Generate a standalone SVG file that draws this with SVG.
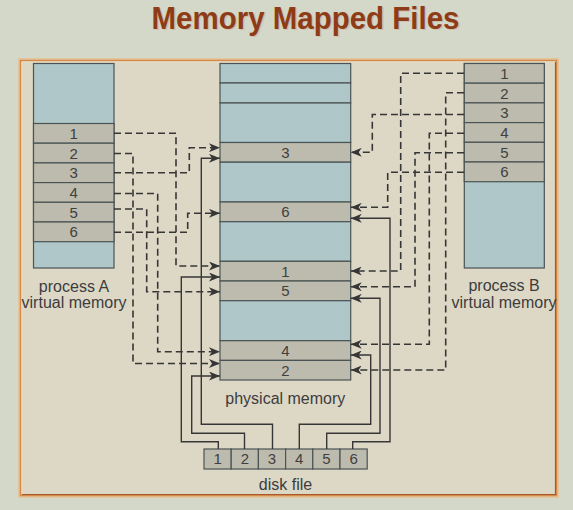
<svg xmlns="http://www.w3.org/2000/svg" width="573" height="510" viewBox="0 0 573 510">
<defs>
<style>
.blue{fill:#afc7c8;stroke:#4a5454;stroke-width:1.2}
.gray{fill:#bdbbad;stroke:#4a5454;stroke-width:1.2}
.num{font-family:"Liberation Sans",Arial,sans-serif;font-size:15px;fill:#404040;text-anchor:middle}
.lbl{font-family:"Liberation Sans",Arial,sans-serif;font-size:16px;fill:#3c3c3c;text-anchor:middle}
.dash{fill:none;stroke:#363636;stroke-width:1.6;stroke-dasharray:7 4;marker-end:url(#ah)}
.solid{fill:none;stroke:#363636;stroke-width:1.4;marker-end:url(#ah)}
</style>
<marker id="ah" markerUnits="userSpaceOnUse" markerWidth="11" markerHeight="9" refX="11" refY="4.5" orient="auto">
<path d="M0,0 L11,4.5 L0,9 L3,4.5 z" fill="#363636" stroke="none"/>
</marker>
</defs>
<rect x="0" y="0" width="573" height="510" fill="#d3d8c9"/>
<text x="305.5" y="28.5" font-family="'Liberation Sans',Arial,sans-serif" font-weight="bold" font-size="32" fill="#c9a48a" text-anchor="middle" opacity="0.45" textLength="308" lengthAdjust="spacingAndGlyphs" transform="translate(1.5,1.5)">Memory Mapped Files</text>
<text x="305.5" y="28.5" font-family="'Liberation Sans',Arial,sans-serif" font-weight="bold" font-size="32" fill="#8e3b17" text-anchor="middle" textLength="308" lengthAdjust="spacingAndGlyphs">Memory Mapped Files</text>
<g id="frame">
<rect x="19" y="59" width="539" height="438" fill="#ddd8c6" stroke="#e3c49c" stroke-width="2"/>
<rect x="20.5" y="60.5" width="536" height="435" fill="none" stroke="#d38a4b" stroke-width="1.5"/>
<polyline points="22,494.5 555.5,494.5 555.5,62" fill="none" stroke="#a65a2c" stroke-width="1.2"/>
<polyline points="22,494 22,62 555,62" fill="none" stroke="#efd9bb" stroke-width="1"/>
</g>

<g id="processA">
<rect class="blue" x="33.5" y="63.5" width="80.5" height="204.5"/>
<rect class="gray" x="33.5" y="123.5" width="80.5" height="19.7"/>
<rect class="gray" x="33.5" y="143.2" width="80.5" height="19.7"/>
<rect class="gray" x="33.5" y="162.9" width="80.5" height="19.7"/>
<rect class="gray" x="33.5" y="182.6" width="80.5" height="19.7"/>
<rect class="gray" x="33.5" y="202.3" width="80.5" height="19.7"/>
<rect class="gray" x="33.5" y="222" width="80.5" height="19.7"/>
<text class="num" x="73.7" y="138.8">1</text>
<text class="num" x="73.7" y="158.5">2</text>
<text class="num" x="73.7" y="178.2">3</text>
<text class="num" x="73.7" y="197.9">4</text>
<text class="num" x="73.7" y="217.6">5</text>
<text class="num" x="73.7" y="237.3">6</text>
<text class="lbl" x="74" y="291.5">process A</text>
<text class="lbl" x="74" y="308">virtual memory</text>
</g>

<g id="processB">
<rect class="blue" x="464.3" y="63.5" width="80" height="204.5"/>
<rect class="gray" x="464.3" y="63.5" width="80" height="19.7"/>
<rect class="gray" x="464.3" y="83.2" width="80" height="19.7"/>
<rect class="gray" x="464.3" y="102.9" width="80" height="19.7"/>
<rect class="gray" x="464.3" y="122.6" width="80" height="19.7"/>
<rect class="gray" x="464.3" y="142.3" width="80" height="19.7"/>
<rect class="gray" x="464.3" y="162" width="80" height="19.7"/>
<text class="num" x="504.3" y="78.8">1</text>
<text class="num" x="504.3" y="98.5">2</text>
<text class="num" x="504.3" y="118.2">3</text>
<text class="num" x="504.3" y="137.9">4</text>
<text class="num" x="504.3" y="157.6">5</text>
<text class="num" x="504.3" y="177.3">6</text>
<text class="lbl" x="504" y="291">process B</text>
<text class="lbl" x="504" y="307.5">virtual memory</text>
</g>

<g id="physical">
<rect class="blue" x="220" y="63.5" width="130.7" height="19.5"/>
<rect class="blue" x="220" y="83" width="130.7" height="20"/>
<rect class="blue" x="220" y="103" width="130.7" height="39.5"/>
<rect class="gray" x="220" y="142.5" width="130.7" height="19.7"/>
<rect class="blue" x="220" y="162.2" width="130.7" height="39.8"/>
<rect class="gray" x="220" y="202" width="130.7" height="19.7"/>
<rect class="blue" x="220" y="221.7" width="130.7" height="39.6"/>
<rect class="gray" x="220" y="261.3" width="130.7" height="19.7"/>
<rect class="gray" x="220" y="281" width="130.7" height="19.7"/>
<rect class="blue" x="220" y="300.7" width="130.7" height="40"/>
<rect class="gray" x="220" y="340.7" width="130.7" height="19.7"/>
<rect class="gray" x="220" y="360.4" width="130.7" height="19.6"/>
<text class="num" x="285.3" y="157.8">3</text>
<text class="num" x="285.3" y="217.3">6</text>
<text class="num" x="285.3" y="276.6">1</text>
<text class="num" x="285.3" y="296.3">5</text>
<text class="num" x="285.3" y="356">4</text>
<text class="num" x="285.3" y="375.6">2</text>
<text class="lbl" x="285.3" y="403.5">physical memory</text>
</g>

<g id="diskfile">
<rect class="gray" x="204" y="449" width="27.2" height="20"/>
<rect class="gray" x="231.2" y="449" width="27.2" height="20"/>
<rect class="gray" x="258.4" y="449" width="27.2" height="20"/>
<rect class="gray" x="285.6" y="449" width="27.2" height="20"/>
<rect class="gray" x="312.8" y="449" width="27.2" height="20"/>
<rect class="gray" x="340" y="449" width="27.2" height="20"/>
<text class="num" x="217.6" y="464.4">1</text>
<text class="num" x="244.8" y="464.4">2</text>
<text class="num" x="272" y="464.4">3</text>
<text class="num" x="299.2" y="464.4">4</text>
<text class="num" x="326.4" y="464.4">5</text>
<text class="num" x="353.6" y="464.4">6</text>
<text class="lbl" x="285.5" y="490">disk file</text>
</g>

<g id="connectors">
<path class="dash" d="M114,133.3 H176 V266 H220"/>
<path class="dash" d="M114,153.5 H133 V363.5 H220"/>
<path class="dash" d="M114,172.7 H189.3 V147.7 H220"/>
<path class="dash" d="M114,193.5 H157.7 V351.7 H220"/>
<path class="dash" d="M114,209 H146.7 V291.7 H220"/>
<path class="dash" d="M114,232.3 H187.7 V213.3 H220"/>
<path class="dash" d="M464,73.3 H400.7 V271 H350.7"/>
<path class="dash" d="M464,92.7 H445.7 V370 H350.7"/>
<path class="dash" d="M464,114.5 H372.3 V152.3 H350.7"/>
<path class="dash" d="M464,133.3 H429.3 V344.3 H350.7"/>
<path class="dash" d="M464,152.7 H415 V286.7 H350.7"/>
<path class="dash" d="M464,172.3 H387.7 V207.3 H350.7"/>
<path class="solid" d="M218.3,449 V441.7 H181.3 V277 H220"/>
<path class="solid" d="M244.5,449 V433.3 H191.7 V376 H220"/>
<path class="solid" d="M272.5,449 V424.3 H201.3 V158.3 H220"/>
<path class="solid" d="M299.3,449 V424.3 H370.7 V355 H350.7"/>
<path class="solid" d="M326.7,449 V433.3 H380 V298.3 H350.7"/>
<path class="solid" d="M352.7,449 V441.7 H390 V218.3 H350.7"/>
</g>
</svg>
